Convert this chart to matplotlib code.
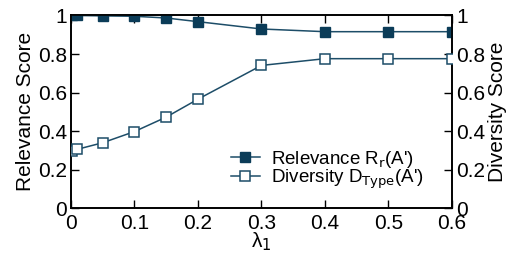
import matplotlib
matplotlib.use("Agg")
import matplotlib.pyplot as plt

# data
lam = [0.002, 0.01, 0.05, 0.1, 0.15, 0.2, 0.3, 0.4, 0.5, 0.6]
relevance = [1.0, 1.0, 0.998, 0.996, 0.987, 0.968, 0.930, 0.916, 0.916, 0.916]
diversity = [0.298, 0.306, 0.340, 0.398, 0.473, 0.566, 0.741, 0.776, 0.776, 0.776]

xticks = [0, 0.1, 0.2, 0.3, 0.4, 0.5, 0.6]
xticklabels = ["0", "0.1", "0.2", "0.3", "0.4", "0.5", "0.6"]
yticks = [0, 0.2, 0.4, 0.6, 0.8, 1.0]
yticklabels = ["0", "0.2", "0.4", "0.6", "0.8", "1"]

plt.rcParams["font.family"] = ["Liberation Sans", "DejaVu Sans"]
fs = 15
farbe = "#0b3c58"
linie = "#1d4d68"

fig = plt.figure(figsize=(5.24, 2.54), dpi=100)
ax1 = fig.add_axes([0.1355, 0.18, 0.727, 0.759])
ax2 = ax1.twinx()

l1, = ax1.plot(lam, relevance, color=linie, lw=1.1, marker="s", ms=7.5,
               mfc=farbe, mec=farbe, label="Relevance R$_\\mathrm{r}$(A')", zorder=3)
l2, = ax2.plot(lam, diversity, color=linie, lw=1.1, marker="s", ms=7.5,
               mfc="white", mec=linie, mew=1.1, label="Diversity D$_\\mathrm{Type}$(A')", zorder=3)

for ax in (ax1, ax2):
    ax.set_xlim(0, 0.6)
    ax.set_ylim(0, 1)
    ax.set_yticks(yticks)
    ax.set_yticklabels(yticklabels, fontsize=fs)
    for s in ax.spines.values():
        s.set_linewidth(1.2)

ax1.set_xticks(xticks)
ax1.set_xticklabels(xticklabels, fontsize=fs)
ax1.tick_params(axis="x", direction="in", length=6, width=1, top=True, pad=4)
ax1.tick_params(axis="y", direction="in", length=6, width=1, pad=3)
ax2.tick_params(axis="y", direction="in", length=6, width=1, pad=3)

ax1.set_xlabel("λ$_\\mathrm{1}$", fontsize=fs, labelpad=-1.5)
ax1.set_ylabel("Relevance Score", fontsize=fs, labelpad=2)
ax2.set_ylabel("Diversity Score", fontsize=fs, labelpad=2)

ax1.legend(handles=[l1, l2], loc="lower left", bbox_to_anchor=(0.385, 0.02),
           frameon=False, fontsize=13.5, handlelength=1.55, handletextpad=0.6,
           labelspacing=-0.1, borderpad=0.2)

fig.savefig("out.png", dpi=100)
